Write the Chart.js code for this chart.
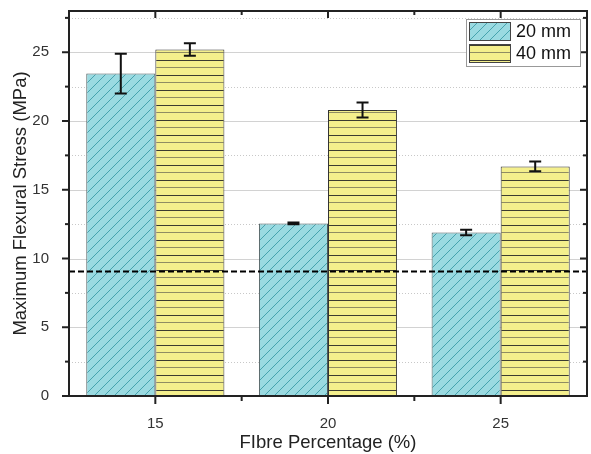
<!DOCTYPE html>
<html>
<head>
<meta charset="utf-8">
<script src="https://cdn.jsdelivr.net/npm/chart.js@4/dist/chart.umd.min.js"></script>
<style>
  html, body { margin: 0; padding: 0; background: #fff; }
  #wrap { width: 591px; height: 454px; }
</style>
</head>
<body>
<div id="wrap"><canvas id="myChart"></canvas></div>
<script>
const fibre = ['15', '20', '25'];
const stress20 = [23.45, 12.55, 11.9];
const err20 = [1.45, 0.06, 0.2];
const stress40 = [25.2, 20.8, 16.7];
const err40 = [0.45, 0.55, 0.35];
const limitLine = 9.05;
const yMajor = [0, 5, 10, 15, 20, 25];
const yMinor = [2.5, 7.5, 12.5, 17.5, 22.5, 27.5];
const seriesNames = ['20 mm', '40 mm'];

const FONT = "'Liberation Sans', Arial, sans-serif";
const ctx = document.getElementById('myChart');
const c2d = ctx.getContext('2d');

// hatch fills
function cyanHatch() {
  const c = document.createElement('canvas');
  c.width = 10; c.height = 10;
  const g = c.getContext('2d');
  g.fillStyle = '#9adae1';
  g.fillRect(0, 0, 10, 10);
  g.strokeStyle = '#45a3ae';
  g.lineWidth = 1;
  g.beginPath();
  g.moveTo(-5, 5); g.lineTo(5, -5);
  g.moveTo(0, 10); g.lineTo(10, 0);
  g.moveTo(5, 15); g.lineTo(15, 5);
  g.stroke();
  return c2d.createPattern(c, 'repeat');
}
function yellowHatch() {
  const c = document.createElement('canvas');
  c.width = 4; c.height = 15;
  const g = c.getContext('2d');
  g.fillStyle = '#f4ef8c';
  g.fillRect(0, 0, 4, 15);
  g.fillStyle = '#3c3c30';
  g.fillRect(0, 0, 4, 1);
  g.fillStyle = '#8f8c62';
  g.fillRect(0, 7, 4, 1);
  return c2d.createPattern(c, 'repeat');
}
const fill20 = cyanHatch();
const fill40 = yellowHatch();

const frame = {
  id: 'frame',
  beforeDatasetsDraw(chart) {
    const { ctx, chartArea: a, scales: { y } } = chart;
    ctx.save();
    ctx.lineWidth = 1;
    yMajor.forEach(v => {
      if (v === 0) return;
      const py = Math.round(y.getPixelForValue(v)) + 0.5;
      ctx.strokeStyle = '#d2d2d2';
      ctx.setLineDash([]);
      ctx.beginPath(); ctx.moveTo(a.left, py); ctx.lineTo(a.right, py); ctx.stroke();
    });
    yMinor.forEach(v => {
      const py = Math.round(y.getPixelForValue(v)) + 0.5;
      ctx.strokeStyle = '#c8c8c8';
      ctx.setLineDash([1, 2]);
      ctx.beginPath(); ctx.moveTo(a.left, py); ctx.lineTo(a.right, py); ctx.stroke();
    });
    ctx.restore();
  },
  afterDatasetsDraw(chart) {
    const { ctx, chartArea: a, scales: { x, y } } = chart;
    ctx.save();
    // error bars
    ctx.strokeStyle = '#111';
    ctx.lineWidth = 2;
    [[stress20, err20], [stress40, err40]].forEach(([vals, errs], di) => {
      const meta = chart.getDatasetMeta(di);
      meta.data.forEach((bar, i) => {
        const px = bar.x;
        const top = y.getPixelForValue(vals[i] + errs[i]);
        const bot = y.getPixelForValue(vals[i] - errs[i]);
        ctx.beginPath();
        ctx.moveTo(px, top); ctx.lineTo(px, bot);
        ctx.moveTo(px - 6, top); ctx.lineTo(px + 6, top);
        ctx.moveTo(px - 6, bot); ctx.lineTo(px + 6, bot);
        ctx.stroke();
      });
    });
    // reference line
    const ly = y.getPixelForValue(limitLine);
    ctx.setLineDash([6, 3]);
    ctx.strokeStyle = '#000';
    ctx.lineWidth = 2;
    ctx.beginPath(); ctx.moveTo(a.left, ly); ctx.lineTo(a.right, ly); ctx.stroke();
    ctx.setLineDash([]);

    // axis ticks
    ctx.strokeStyle = '#222';
    ctx.lineWidth = 2;
    const tick = (x1, y1, x2, y2) => { ctx.beginPath(); ctx.moveTo(x1, y1); ctx.lineTo(x2, y2); ctx.stroke(); };
    yMajor.forEach(v => {
      const py = y.getPixelForValue(v);
      tick(a.left - 7, py, a.left, py);
      tick(a.right, py, a.right - 7, py);
    });
    yMinor.forEach(v => {
      const py = y.getPixelForValue(v);
      tick(a.left - 4, py, a.left, py);
      tick(a.right, py, a.right - 4, py);
    });
    fibre.forEach((f, i) => {
      const px = x.getPixelForValue(i);
      tick(px, a.bottom, px, a.bottom + 8);
      tick(px, a.top, px, a.top + 7);
    });
    for (let i = 0; i < fibre.length - 1; i++) {
      const px = (x.getPixelForValue(i) + x.getPixelForValue(i + 1)) / 2;
      tick(px, a.bottom, px, a.bottom + 5);
      tick(px, a.top, px, a.top + 4);
    }
    // frame
    ctx.strokeStyle = '#222';
    ctx.lineWidth = 2;
    ctx.strokeRect(a.left, a.top, a.right - a.left, a.bottom - a.top);

    // legend
    const lx = 466, ly0 = 19, lw = 114, lh = 47;
    ctx.fillStyle = '#fff';
    ctx.fillRect(lx, ly0, lw, lh);
    ctx.strokeStyle = '#999';
    ctx.lineWidth = 1;
    ctx.strokeRect(lx + 0.5, ly0 + 0.5, lw, lh);
    [fill20, fill40].forEach((f, i) => {
      const sy = ly0 + 3 + i * 22;
      ctx.fillStyle = f;
      ctx.fillRect(lx + 3, sy, 42, 19);
      ctx.strokeStyle = '#444';
      ctx.strokeRect(lx + 3.5, sy + 0.5, 41, 18);
      ctx.fillStyle = '#111';
      ctx.font = '18px ' + FONT;
      ctx.textBaseline = 'middle';
      ctx.fillText(seriesNames[i], lx + 50, sy + 10);
    });
    ctx.restore();
  }
};

new Chart(ctx, {
  type: 'bar',
  data: {
    labels: fibre,
    datasets: [{
      label: seriesNames[0],
      data: stress20,
      backgroundColor: fill20,
      borderColor: '#4d5a5c',
      borderWidth: 1
    }, {
      label: seriesNames[1],
      data: stress40,
      backgroundColor: fill40,
      borderColor: '#333',
      borderWidth: 1
    }]
  },
  options: {
    responsive: true,
    maintainAspectRatio: false,
    animation: false,
    datasets: { bar: { categoryPercentage: 0.8, barPercentage: 1.0 } },
    layout: { padding: { top: 11, right: 4, left: 0, bottom: 0 } },
    plugins: { legend: { display: false }, tooltip: { enabled: false } },
    scales: {
      x: {
        offset: true,
        grid: { display: false },
        border: { display: false },
        ticks: { color: '#333', font: { family: FONT, size: 15 }, padding: 11 },
        title: { display: true, text: 'FIbre Percentage (%)', color: '#222', font: { family: FONT, size: 18.5 }, padding: { top: 0, bottom: 0 } },
        afterFit(scale) { scale.height = 58; scale.paddingLeft = 0; scale.paddingRight = 0; }
      },
      y: {
        min: 0,
        max: 28,
        grid: { display: false },
        border: { display: false },
        afterBuildTicks(scale) { scale.ticks = yMajor.map(v => ({ value: v })); },
        ticks: { color: '#333', font: { family: FONT, size: 15 }, padding: 12 },
        title: { display: true, text: 'Maximum Flexural Stress (MPa)', color: '#222', font: { family: FONT, size: 18.5 }, padding: { top: 10, bottom: 0 } },
        afterFit(scale) { scale.width = 69; scale.paddingTop = 0; scale.paddingBottom = 0; }
      }
    }
  },
  plugins: [frame]
});
</script>
</body>
</html>
